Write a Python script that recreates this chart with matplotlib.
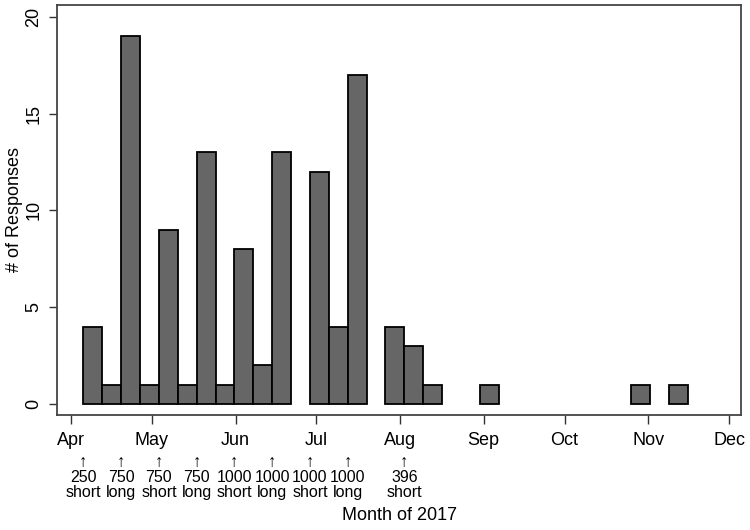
import matplotlib
matplotlib.use("Agg")
import matplotlib.pyplot as plt
import matplotlib.dates as mdates
import matplotlib.transforms as mtransforms
import pandas as pd

plt.rcParams['font.family'] = ['Liberation Sans', 'DejaVu Sans']

# Weekly bins (start date of each week that had responses)
week_starts = ["2017-04-05", "2017-04-12", "2017-04-19", "2017-04-26", "2017-05-03",
               "2017-05-10", "2017-05-17", "2017-05-24", "2017-05-31", "2017-06-07",
               "2017-06-14", "2017-06-28", "2017-07-05", "2017-07-12", "2017-07-26",
               "2017-08-02", "2017-08-09", "2017-08-30", "2017-10-25", "2017-11-08"]
responses = [4, 1, 19, 1, 9, 1, 13, 1, 8, 2, 13, 12, 4, 17, 4, 3, 1, 1, 1, 1]

# Mailing waves shown under the axis
mail_dates = ["2017-04-05", "2017-04-19", "2017-05-03", "2017-05-17", "2017-05-31",
              "2017-06-14", "2017-06-28", "2017-07-12", "2017-08-02"]
mail_sizes = ["250", "750", "750", "750", "1000", "1000", "1000", "1000", "396"]
mail_types = ["short", "long", "short", "long", "short", "long", "short", "long", "short"]

month_ticks = ["2017-04-01", "2017-05-01", "2017-06-01", "2017-07-01", "2017-08-01",
               "2017-09-01", "2017-10-01", "2017-11-01", "2017-12-01"]
month_labels = ["Apr", "May", "Jun", "Jul", "Aug", "Sep", "Oct", "Nov", "Dec"]


def main():
    fig = plt.figure(figsize=(7.5, 5.3), dpi=100)
    ax = fig.add_axes([0.076, 0.217, 0.912, 0.774])

    offset = pd.Timedelta(hours=14)
    x = [mdates.date2num(pd.Timestamp(d) + offset) for d in week_starts]
    ax.bar(x, responses, width=7, align='edge', color='#666666',
           edgecolor='black', linewidth=1.3, zorder=2)

    ax.set_xlim(mdates.date2num(pd.Timestamp("2017-03-26 19:00")),
                mdates.date2num(pd.Timestamp("2017-12-05 10:00")))
    ax.set_ylim(-0.57, 20.62)

    ax.set_xticks([mdates.date2num(pd.Timestamp(d)) for d in month_ticks])
    ax.set_xticklabels(month_labels, fontsize=13)
    ax.set_yticks([0, 5, 10, 15, 20])
    ax.set_yticklabels(["0", "5", "10", "15", "20"], fontsize=13,
                       rotation=90, va='center')
    ax.tick_params(axis='x', length=6.5, width=1.0, pad=6, color='#333333')
    ax.tick_params(axis='y', length=5.5, width=1.0, pad=5, color='#333333')

    for side in ['left', 'right', 'top', 'bottom']:
        ax.spines[side].set_color('#444444')
        ax.spines[side].set_linewidth(1.3)

    ax.set_ylabel('# of Responses', fontsize=13, labelpad=2)
    fig.text(0.532, 0.028, 'Month of 2017', fontsize=13, ha='center', va='center')

    # Mailing annotations below the month axis
    trans = mtransforms.blended_transform_factory(ax.transData, fig.transFigure)
    for d, size, kind in zip(mail_dates, mail_sizes, mail_types):
        xd = mdates.date2num(pd.Timestamp(d) + offset)
        ax.text(xd, 0.128, '\u2191', transform=trans, ha='center', va='center',
                fontsize=12, clip_on=False)
        ax.text(xd, 0.085, f'{size}\n{kind}', transform=trans, ha='center',
                va='center', fontsize=11.5, linespacing=1.0, clip_on=False)

    fig.savefig('out.png', dpi=100)
    plt.close(fig)


if __name__ == '__main__':
    main()
